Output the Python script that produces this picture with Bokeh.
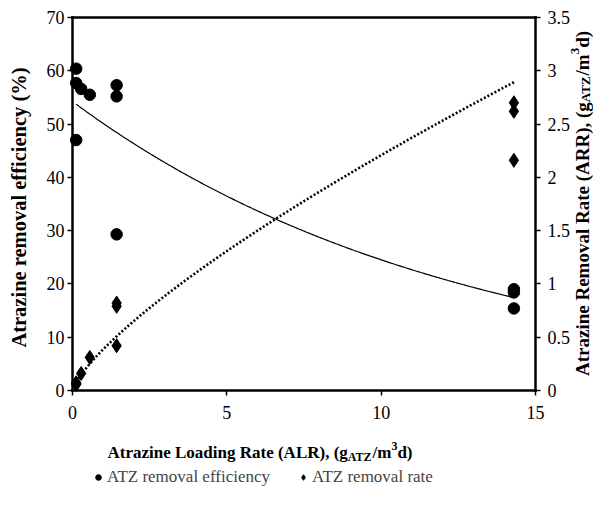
import numpy as np
from bokeh.plotting import figure
from bokeh.models import (Range1d, LinearAxis, FixedTicker, Label, Legend,
                          LegendItem, NumeralTickFormatter)
from bokeh.embed import file_html
from bokeh.resources import INLINE

# ---------------- data ----------------
alr_eff = [0.12, 0.12, 0.12, 0.28, 0.56, 1.43, 1.43, 1.43, 14.3, 14.3, 14.3]
eff = [60.4, 57.7, 47.0, 56.6, 55.5, 57.3, 55.2, 29.3, 19.0, 18.4, 15.4]

alr_rate = [0.12, 0.12, 0.12, 0.28, 0.56, 1.43, 1.43, 1.43, 14.3, 14.3, 14.3]
arr = [0.072, 0.068, 0.056, 0.16, 0.31, 0.82, 0.79, 0.42, 2.70, 2.62, 2.16]

x_ticks = [0, 5, 10, 15]
eff_ticks = [0, 10, 20, 30, 40, 50, 60, 70]
arr_ticks = [0, 0.5, 1, 1.5, 2, 2.5, 3, 3.5]
X_MAX, EFF_MAX, ARR_MAX = 15, 70, 3.5

legend_labels = ["ATZ removal efficiency", "ATZ removal rate"]

# ---------------- trend lines (fitted to the data) ----------------
b_eff, lna_eff = np.polyfit(np.array(alr_eff), np.log(eff), 1)      # exponential
b_arr, lna_arr = np.polyfit(np.log(alr_rate), np.log(arr), 1)       # power
xt = np.linspace(min(alr_eff), max(alr_eff), 300)
eff_fit = np.exp(lna_eff) * np.exp(b_eff * xt)
arr_fit = np.exp(lna_arr) * xt ** b_arr

# ---------------- layout geometry (canvas pixels) ----------------
W, H = 593, 490
BOX_L, BOX_R, BOX_T, BOX_B = 72, 535, 17, 390
kx = (BOX_R - BOX_L) / X_MAX
ky = (BOX_B - BOX_T) / EFF_MAX
x_range = Range1d(-BOX_L / kx, X_MAX + (W - BOX_R) / kx)
y0, y1 = -(H - BOX_B) / ky, EFF_MAX + BOX_T / ky
y_range = Range1d(y0, y1)
r_scale = ARR_MAX / EFF_MAX

SERIF = "Liberation Serif"
p = figure(width=W, height=H, x_range=x_range, y_range=y_range,
           x_axis_type=None, y_axis_type=None, min_border=0,
           output_backend="svg", toolbar_location=None)
p.extra_y_ranges = {"arr": Range1d(y0 * r_scale, y1 * r_scale)}
p.outline_line_color = None
p.background_fill_color = "white"
p.border_fill_color = "white"

ax_b = LinearAxis(fixed_location=0, bounds=(0, X_MAX),
                  ticker=FixedTicker(ticks=x_ticks))
ax_l = LinearAxis(fixed_location=0, bounds=(0, EFF_MAX),
                  ticker=FixedTicker(ticks=eff_ticks))
ax_r = LinearAxis(fixed_location=X_MAX, bounds=(0, ARR_MAX), y_range_name="arr",
                  ticker=FixedTicker(ticks=arr_ticks),
                  formatter=NumeralTickFormatter(format="0.[0]"))
ax_t = LinearAxis(fixed_location=EFF_MAX, bounds=(0, X_MAX),
                  ticker=FixedTicker(ticks=[]))
p.add_layout(ax_b, "below")
p.add_layout(ax_l, "left")
p.add_layout(ax_r, "right")
p.add_layout(ax_t, "above")

for ax in [ax_b, ax_l, ax_r, ax_t]:
    ax.axis_line_color = "black"
    ax.axis_line_width = 2.5
    ax.axis_line_cap = "square"
    ax.major_tick_line_color = "black"
    ax.major_tick_line_width = 1.5
    ax.major_tick_out = 5
    ax.major_tick_in = 0
    ax.minor_tick_line_color = None
    ax.major_label_text_font = SERIF
    ax.major_label_text_font_size = "18px"
    ax.major_label_text_color = "black"
ax_b.major_label_standoff = 10
ax_l.major_label_standoff = 3
ax_r.major_label_standoff = 7

# ---------------- glyphs ----------------
p.line(xt, eff_fit, line_color="black", line_width=1.2)
p.line(xt, arr_fit, line_color="black", line_width=2.6, line_dash="2 2",
       y_range_name="arr")
r1 = p.scatter(alr_eff, eff, marker="circle", size=11.5, color="black")
r2 = p.scatter(alr_rate, arr, marker="diamond", size=14, color="black",
               y_range_name="arr")

legend = Legend(items=[LegendItem(label=legend_labels[0], renderers=[r1]),
                       LegendItem(label=legend_labels[1], renderers=[r2])],
                orientation="horizontal", location=(91, 3),
                border_line_color=None, background_fill_alpha=0,
                padding=0, margin=0, spacing=26, glyph_width=14,
                glyph_height=20, label_standoff=2, label_height=20,
                label_text_font=SERIF, label_text_font_size="17px")
p.add_layout(legend)

# ---------------- axis titles (pieces for sub/superscripts) ----------------
TB = {'A': 722, 'L': 667, 'R': 722, 'T': 667, 'Z': 667, 'a': 500, 'd': 556,
      'e': 444, 'g': 500, 'i': 278, 'l': 278, 'm': 833, 'n': 556, 'o': 500,
      'r': 444, 't': 333, 'v': 500, 'z': 444, ' ': 250, '(': 333, ')': 333,
      ',': 250, '/': 278, '3': 500, '%': 1000, 'f': 333, 'c': 444, 'y': 500}


def tw(s, size):
    return sum(TB.get(c, 500) for c in s) * size / 1000.0


def put(text, px, py, size, angle=0.0, align="left", baseline="alphabetic"):
    p.add_layout(Label(x=0, y=0, x_offset=px - BOX_L, y_offset=BOX_B - py,
                       text=text, angle=angle, text_align=align,
                       text_baseline=baseline, text_font=SERIF,
                       text_font_style="bold", text_font_size=f"{size}px",
                       text_color="black"))


# x-axis title
F, S = 17, 12
cx, base = 107, 452
for t, sz, dy in [("Atrazine Loading Rate (ALR), (g", F, 0), ("ATZ", S, 4),
                  ("/m", F, 0), ("3", S, -7), ("d)", F, 0)]:
    put(t, cx, base + dy, sz)
    cx += tw(t, sz)

# left y-axis title
put("Atrazine removal efficiency (%)", 18, 207, 20.5, angle=np.pi / 2,
    align="center", baseline="middle")

# right y-axis title (rotated, reading upward)
F2, S2 = 19, 13
pieces2 = [("Atrazine Removal Rate (ARR), (g", F2, 0), ("ATZ", S2, 3),
           ("/m", F2, 0), ("3", S2, -8), ("d)", F2, 0)]
total = sum(tw(t, sz) for t, sz, _ in pieces2)
cy = 203 + total / 2
bx = 582
for t, sz, dx in pieces2:
    put(t, bx + dx, cy, sz, angle=np.pi / 2)
    cy -= tw(t, sz)

open("out.html", "w").write(file_html(p, INLINE))
